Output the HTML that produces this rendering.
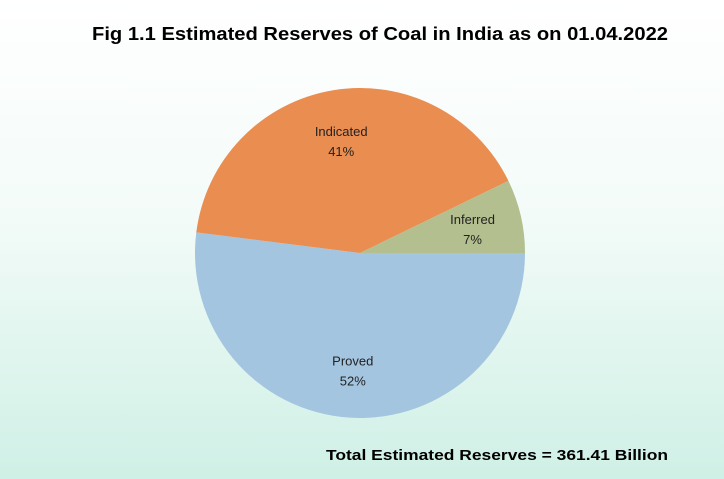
<!DOCTYPE html>
<html><head><meta charset="utf-8"><style>
body{margin:0;width:724px;height:479px;overflow:hidden}
svg{display:block;font-family:"Liberation Sans",sans-serif}
</style></head><body>
<svg id="chart" width="724" height="479" viewBox="0 0 724 479">
<defs><linearGradient id="bg" x1="0" y1="0" x2="0" y2="1">
<stop offset="0" stop-color="#ffffff"/><stop offset="0.45" stop-color="#f3fbf8"/><stop offset="1" stop-color="#cff0e6"/></linearGradient></defs>
<rect width="724" height="479" fill="url(#bg)"/>
<text x="92" y="40" font-size="18" font-weight="bold" fill="#000" textLength="576" lengthAdjust="spacingAndGlyphs">Fig 1.1 Estimated Reserves of Coal in India as on 01.04.2022</text>
<g id="slices"></g>
<text x="326" y="460" font-size="15" font-weight="bold" fill="#000" textLength="342" lengthAdjust="spacingAndGlyphs">Total  Estimated Reserves = 361.41 Billion</text>
</svg>
<script>
const categories=["Proved","Indicated","Inferred"];
const values=[187.9,147.5,26.0];
const pctLabels=["52%","41%","7%"];
const colors=["#a4c5e0","#ea8d50","#b3bf8e"];
const cx=360,cy=253,r=165;
const total=values.reduce((a,b)=>a+b,0);
const g=document.getElementById('slices');
const NS="http://www.w3.org/2000/svg";
let a0=0;
values.forEach((v,i)=>{
  const a1=a0+v/total*2*Math.PI;
  const x0=cx+r*Math.cos(a0),y0=cy+r*Math.sin(a0),x1=cx+r*Math.cos(a1),y1=cy+r*Math.sin(a1);
  const p=document.createElementNS(NS,'path');
  p.setAttribute('d',`M${cx},${cy}L${x0},${y0}A${r},${r} 0 ${a1-a0>Math.PI?1:0} 1 ${x1},${y1}Z`);
  p.setAttribute('fill',colors[i]);
  
  
  g.appendChild(p);
  const m=(a0+a1)/2, lr=r*0.7;
  const lx=cx+lr*Math.cos(m), ly=cy+lr*Math.sin(m);
  [categories[i],pctLabels[i]].forEach((t,k)=>{
    const tx=document.createElementNS(NS,'text');
    tx.setAttribute('x',lx);tx.setAttribute('y',ly-3+k*20);
    tx.setAttribute('text-anchor','middle');tx.setAttribute('font-size','13');
    tx.setAttribute('fill','#222');
    
    
    tx.textContent=t;g.appendChild(tx);
  });
  a0=a1;
});
</script>
</body></html>
